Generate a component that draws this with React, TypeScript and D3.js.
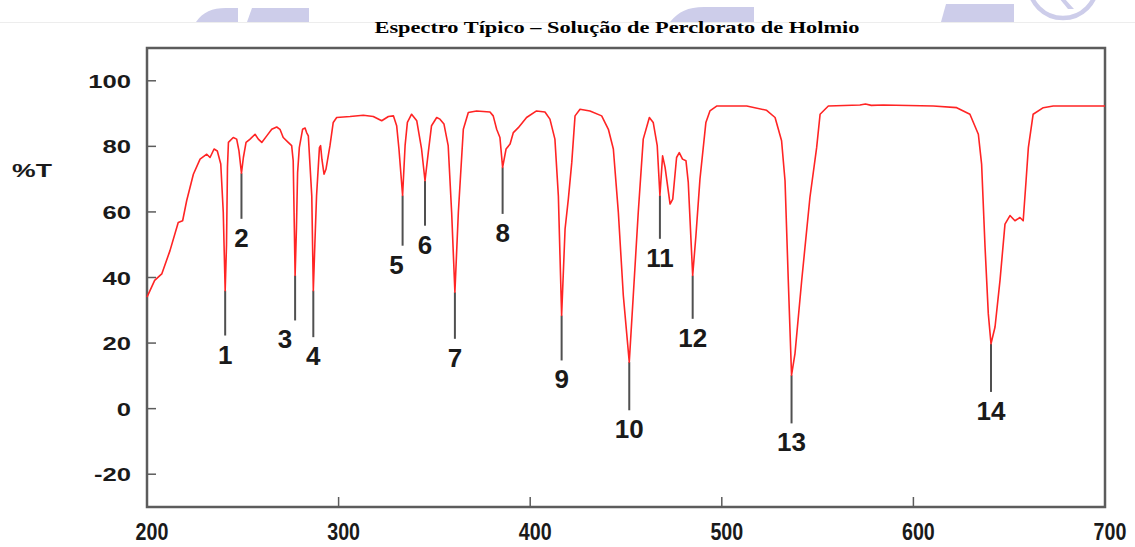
import { useRef, useEffect } from "react";
import * as d3 from "d3";

// scan: wavelength (nm) -> %T
const wavelength = [
  200, 204, 207.7, 212, 216.3, 218.6, 220.7, 224.2, 227.7, 231.2, 232.9, 235, 236.7, 238.5, 239.8,
  240.8, 241.5, 242, 242.5, 245, 246.8, 248, 249.3, 250.3, 251.7, 253.8, 256.4, 258.1, 259.9,
  262.5, 265.1, 267.7, 269.4, 271.1, 273.7, 275.5, 276.3, 276.9, 277.3, 278, 278.6, 279.5, 281.2,
  282.5, 283.3, 284.2, 285, 286, 286.8, 287.6, 288.5, 290, 290.6, 291.3, 292.4, 293.4, 295.5,
  297.2, 299, 306, 312.9, 318.1, 322.5, 326, 328.6, 330.3, 331.5, 333.4, 334.7, 335.9, 338.1,
  340.8, 343.3, 345.1, 346.8, 348.5, 351.2, 352.9, 355, 357.2, 359, 360.7, 362.5, 365.1, 367.7,
  372, 379, 380.7, 382.5, 384.2, 385.6, 387.4, 389.5, 391.2, 393.8, 398.1, 403.3, 407.7, 410.3,
  412.9, 414.7, 416.4, 418.2, 419.9, 421.7, 423.4, 426, 431.2, 437.3, 440.8, 443.4, 446, 448.6,
  451.7, 453.8, 456.4, 459, 462.2, 464.2, 466.3, 467.7, 469.1, 470.4, 473, 474.4, 476.4, 477.8,
  479.5, 481.3, 482.5, 484.8, 486.5, 488.6, 491.7, 493.8, 497.3, 513, 523.4, 527.8, 531.2, 533,
  534.7, 536.4, 538.2, 541.7, 546, 549.5, 551.3, 555.6, 572.1, 575, 578, 584.3, 610.4, 622.6,
  629.5, 633.9, 635.6, 637.4, 639.1, 640.5, 642.6, 645.2, 647.8, 650.4, 653, 655.6, 657.3, 658.8,
  660, 662.5, 667.8, 673, 700,
];
const transmittance = [
  34, 39.1, 41.1, 48.2, 56.8, 57.3, 63.4, 71.5, 76.1, 77.6, 76.6, 79.2, 78.6, 74.6, 60,
  36, 50, 73.6, 81.2, 82.7, 82.2, 78.6, 71.8, 76.6, 81.2, 82.2, 83.7, 82.2, 81.2,
  83.2, 85.2, 85.9, 85.2, 82.7, 81.2, 80.2, 75.6, 55, 40.6, 55, 72, 79.6, 85.2,
  85.6, 84.2, 83.2, 75, 64.9, 36, 50, 65, 79.6, 80.2, 76, 71.5, 73, 80.2,
  87.3, 88.8, 89.1, 89.5, 89.1, 87.8, 89.1, 89.3, 86.3, 79.2, 65, 80.2, 87.3, 89.8,
  87.8, 79.2, 69.5, 78.1, 86.3, 88.8, 88.3, 86.8, 80.2, 59.9, 35.5, 59.9, 85.2, 90.3,
  90.8, 90.5, 89.3, 85.2, 82.7, 73.6, 79.2, 80.7, 84.2, 85.7, 88.8, 90.8, 90.5, 88.3,
  82.2, 64.9, 28.4, 54.8, 63.9, 75.1, 89.3, 91.3, 90.8, 89.3, 85.2, 79.2, 59.9, 34.5,
  14.2, 34.5, 59.9, 82.2, 88.8, 87.3, 80.2, 65, 77.1, 73.6, 62.4, 63.9, 76.6, 78.1,
  76.1, 75.6, 69, 40.6, 52.8, 70, 87.3, 90.8, 92.3, 92.3, 91, 88.8, 81.7, 69.5,
  39.1, 10.2, 16.8, 39.1, 64.4, 79.6, 89.8, 92.3, 92.6, 92.9, 92.5, 92.6, 92.3, 91.8,
  89.8, 83.7, 74.6, 49.2, 28.9, 19.8, 24.9, 39.1, 56.3, 58.9, 57.3, 58.3, 57.3, 69.5,
  79.6, 89.8, 91.8, 92.3, 92.3,
];

// numbered holmium bands: where the marker starts (band bottom) and where it stops
const peakLabels = ["1", "2", "3", "4", "5", "6", "7", "8", "9", "10", "11", "12", "13", "14"];
const peakNm = [240.8, 249.3, 277.3, 286.8, 333.4, 345.1, 360.7, 385.6, 416.4, 451.7, 467.7, 484.8, 536.4, 640.5];
const peakMin = [36, 71.8, 40.6, 36, 65, 69.5, 35.5, 73.6, 28.4, 14.2, 65, 40.6, 10.2, 19.8];
const peakLineEnd = [22.3, 57.9, 26.9, 21.8, 49.7, 55.8, 21.3, 59.4, 14.7, -0.5, 51.8, 27.4, -4.5, 5.1];

const yTicks = [100, 80, 60, 40, 20, 0, -20];
const xTicks = [200, 300, 400, 500, 600, 700];

const title = "Espectro Típico – Solução de Perclorato de Holmio";

const W = 1135;
const H = 547;
const left = 147;
const right = 1105;
const top = 48;
const bottom = 507;

function draw(el: SVGSVGElement | null) {
  const svg = d3.select(el);
  svg.selectAll("*").remove();

  const x = d3.scaleLinear().domain([200, 700]).range([left, right]);
  const y = d3.scaleLinear().domain([-30, 110]).range([bottom, top]);

  // faint cut-off logo watermark along the top edge
  const wm = svg.append("g").attr("fill", "#cdcdea");
  wm.append("path").attr("d", "M196,22 C203,12 212,8 226,8 L238,8 L238,22 Z");
  wm.append("path").attr("d", "M252,8 L309,8 L309,22 L247,22 Z");
  wm.append("path").attr("d", "M670,22 C678,12 688,7 704,7 L754,7 L754,22 Z");
  wm.append("path").attr("d", "M946,4 L1014,4 L1014,22 L941,22 Z");
  wm.append("circle")
    .attr("cx", 1063)
    .attr("cy", -16)
    .attr("r", 34)
    .attr("fill", "none")
    .attr("stroke", "#cdcdea")
    .attr("stroke-width", 4.5);
  wm.append("path").attr("d", "M1064,-2 L1074,9 L1068,9 L1059,-2 Z");
  svg.append("line")
    .attr("x1", 0)
    .attr("x2", W)
    .attr("y1", 22.5)
    .attr("y2", 22.5)
    .attr("stroke", "#ededed")
    .attr("stroke-width", 1);

  svg.append("text")
    .attr("x", 617)
    .attr("y", 33)
    .attr("text-anchor", "middle")
    .attr("font-family", "'Liberation Serif', 'Times New Roman', serif")
    .attr("font-weight", "bold")
    .attr("font-size", 17)
    .attr("textLength", 485)
    .attr("lengthAdjust", "spacingAndGlyphs")
    .text(title);

  // frame
  svg.append("rect")
    .attr("x", left)
    .attr("y", top)
    .attr("width", right - left)
    .attr("height", bottom - top)
    .attr("fill", "none")
    .attr("stroke", "#5c5c5c")
    .attr("stroke-width", 2.5);

  // inward ticks
  svg.append("g")
    .selectAll("line")
    .data(yTicks)
    .join("line")
    .attr("x1", left)
    .attr("x2", left + 9)
    .attr("y1", (d) => y(d))
    .attr("y2", (d) => y(d))
    .attr("stroke", "#5c5c5c")
    .attr("stroke-width", 1.5);
  svg.append("g")
    .selectAll("line")
    .data(xTicks.slice(1, -1))
    .join("line")
    .attr("x1", (d) => x(d))
    .attr("x2", (d) => x(d))
    .attr("y1", bottom)
    .attr("y2", bottom - 10)
    .attr("stroke", "#5c5c5c")
    .attr("stroke-width", 1.5);

  // y labels: wide bold sans
  svg.append("g")
    .selectAll("text")
    .data(yTicks)
    .join("text")
    .attr("transform", (d) => `translate(131,${y(d) + 7}) scale(1.35,1)`)
    .attr("text-anchor", "end")
    .attr("font-family", "'Liberation Sans', Arial, sans-serif")
    .attr("font-weight", "bold")
    .attr("font-size", 19)
    .attr("fill", "#1a1a1a")
    .text((d) => d);

  svg.append("text")
    .attr("transform", "translate(12,177) scale(1.4,1)")
    .attr("font-family", "'Liberation Sans', Arial, sans-serif")
    .attr("font-weight", "bold")
    .attr("font-size", 19)
    .attr("fill", "#1a1a1a")
    .text("%T");

  // x labels: tall narrow
  svg.append("g")
    .selectAll("text")
    .data(xTicks)
    .join("text")
    .attr("transform", (d) => `translate(${x(d) + 5},540) scale(0.82,1)`)
    .attr("text-anchor", "middle")
    .attr("font-family", "'Liberation Sans', Arial, sans-serif")
    .attr("font-weight", "bold")
    .attr("font-size", 24)
    .attr("fill", "#1a1a1a")
    .text((d) => d);

  // band markers
  const nudge: Record<string, number> = { "3": -10, "5": -6 };
  const marks = svg.append("g");
  peakLabels.forEach((lab, i) => {
    marks.append("line")
      .attr("x1", x(peakNm[i]))
      .attr("x2", x(peakNm[i]))
      .attr("y1", y(peakMin[i]))
      .attr("y2", y(peakLineEnd[i]))
      .attr("stroke", "#505050")
      .attr("stroke-width", 2);
    marks.append("text")
      .attr("x", x(peakNm[i]) + (nudge[lab] || 0))
      .attr("y", y(peakLineEnd[i]) + 28)
      .attr("text-anchor", "middle")
      .attr("font-family", "'Liberation Sans', Arial, sans-serif")
      .attr("font-weight", "bold")
      .attr("font-size", 26)
      .attr("fill", "#1a1a1a")
      .text(lab);
  });

  const pts = wavelength.map((w, i) => [w, transmittance[i]] as [number, number]);
  svg.append("path")
    .datum(pts)
    .attr("fill", "none")
    .attr("stroke", "#ff2424")
    .attr("stroke-width", 1.6)
    .attr("stroke-linejoin", "round")
    .attr(
      "d",
      d3
        .line<[number, number]>()
        .x((d) => x(d[0]))
        .y((d) => y(d[1]))
    );
}

export default function App() {
  const ref = useRef<SVGSVGElement>(null);

  useEffect(() => {
    draw(ref.current);
  }, []);

  return (
    <svg
      ref={ref}
      width={W}
      height={H}
      style={{ position: "absolute", left: 0, top: 0, background: "#fff" }}
    />
  );
}
